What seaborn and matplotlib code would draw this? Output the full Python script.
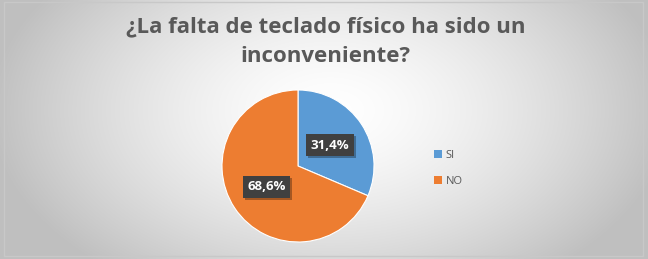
import numpy as np
import matplotlib.pyplot as plt
import matplotlib.patheffects as pe
import seaborn as sns
from matplotlib.patches import Rectangle, Patch

# datos
categorias = ['SI', 'NO']
valores = [31.4, 68.6]
etiquetas = ['31,4%', '68,6%']
colores = ['#5B9BD5', '#ED7D31']
titulo = '¿La falta de teclado físico ha sido un\ninconveniente?'

sns.set_theme(style='white')
plt.rcParams['font.family'] = ['Open Sans', 'DejaVu Sans']

fig = plt.figure(figsize=(6.48, 2.59), dpi=100)

# fondo con degradado radial
bg = fig.add_axes([0, 0, 1, 1])
yy, xx = np.mgrid[0:259, 0:648]
d = np.sqrt(((xx - 330) / 350.0) ** 2 + ((yy - 110) / 215.0) ** 2)
g = np.clip(1.0 - 0.26 * d ** 1.5, 0.75, 1.0)
bg.imshow(np.dstack([g, g, g]), extent=[0, 648, 259, 0], aspect='auto')
bg.add_patch(Rectangle((4, 2), 639, 254, fill=False, edgecolor='#c8c8c8', lw=1))
bg.set_xlim(0, 648)
bg.set_ylim(259, 0)
bg.axis('off')

fig.text(0.502, 0.84, titulo, ha='center', va='center', fontsize=16,
         fontweight='bold', color='#595959', linespacing=1.55)

ax = fig.add_axes([0.3426, 0.0656, 0.2346, 0.587])
wedges, _ = ax.pie(valores, colors=colores, startangle=90, counterclock=False,
                   wedgeprops=dict(edgecolor='white', linewidth=0.8))
for w, lab in zip(wedges, etiquetas):
    ang = np.deg2rad((w.theta1 + w.theta2) / 2)
    t = ax.text(0.5 * np.cos(ang), 0.5 * np.sin(ang), lab, ha='center', va='center',
                fontsize=9.5, fontweight='bold', color='white',
                bbox=dict(boxstyle='square,pad=0.35', facecolor='#404040', edgecolor='none'))
    # sombra de la caja
    t.get_bbox_patch().set_path_effects([
        pe.SimplePatchShadow(offset=(1.5, -1.5), shadow_rgbFace='black', alpha=0.3),
        pe.Normal()])
ax.set_xlim(-1, 1)
ax.set_ylim(-1, 1)
ax.set_aspect('equal')
ax.axis('off')

handles = [Patch(facecolor=c, edgecolor='none') for c in colores]
fig.legend(handles, categorias, loc='center left', bbox_to_anchor=(0.655, 0.35),
           frameon=False, fontsize=8, labelcolor='#595959', handlelength=0.7,
           handleheight=0.7, handletextpad=0.3, labelspacing=1.4)

fig.savefig('out.png', dpi=100)
